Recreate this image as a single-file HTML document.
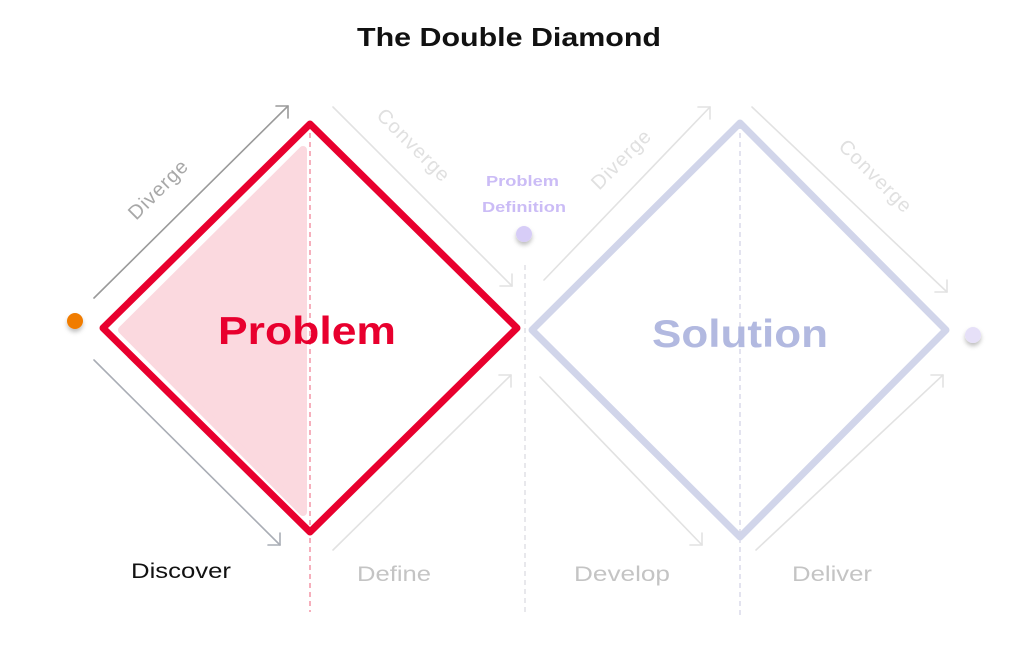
<!DOCTYPE html>
<html><head><style>
body{margin:0;background:#fff;width:1022px;height:645px;overflow:hidden}
svg{display:block}
text{font-family:"Liberation Sans",sans-serif}
</style></head><body>
<svg width="1022" height="645" viewBox="0 0 1022 645">
<defs>
<filter id="sh" x="-1" y="-1" width="3" height="3"><feDropShadow dx="0" dy="3" stdDeviation="2" flood-opacity="0.25"/></filter>
</defs>
<text x="357" y="46" textLength="304" lengthAdjust="spacingAndGlyphs" font-size="26" font-weight="bold" fill="#111">The Double Diamond</text>

<!-- pink fill -->
<polygon points="122,330 303,150 303,512" fill="#fbd9df" stroke="#fbd9df" stroke-width="8" stroke-linejoin="round"/>
<!-- dashed lines -->
<line x1="310" y1="124" x2="310" y2="612" stroke="#f07a90" stroke-width="1.2" stroke-dasharray="5,4"/>
<line x1="525" y1="265" x2="525" y2="615" stroke="#d8d8e0" stroke-width="1.2" stroke-dasharray="5,4"/>
<line x1="740" y1="124" x2="740" y2="615" stroke="#d0d0e4" stroke-width="1.2" stroke-dasharray="5,4"/>

<!-- Problem diamond -->
<polygon points="103,328 310,124 517,328 310,532" fill="none" stroke="#e8002e" stroke-width="7" stroke-linejoin="round"/>
<!-- Solution diamond -->
<polygon points="532,330 740,123 946,330 740,537" fill="none" stroke="#d1d5ea" stroke-width="7" stroke-linejoin="round"/>

<g fill="none" stroke-width="1.6" stroke-linecap="round" stroke-linejoin="round">
<g stroke="#9a9a9a">
<line x1="94" y1="298" x2="288" y2="106"/><polyline points="276,106 288,106 288,118"/>
</g>
<g stroke="#a9adb5">
<line x1="94" y1="360" x2="280" y2="545"/><polyline points="268,545 280,545 280,533"/>
</g>
<g stroke="#e2e2e2">
<line x1="333" y1="107" x2="512" y2="286"/><polyline points="500,286 512,286 512,274"/>
<line x1="333" y1="550" x2="511" y2="375"/><polyline points="499,375 511,375 511,387"/>
<line x1="544" y1="280" x2="710" y2="107"/><polyline points="698,107 710,107 710,119"/>
<line x1="752" y1="107" x2="947" y2="292"/><polyline points="935,292 947,292 947,280"/>
<line x1="540" y1="377" x2="702" y2="545"/><polyline points="690,545 702,545 702,533"/>
<line x1="756" y1="550" x2="943" y2="375"/><polyline points="931,375 943,375 943,387"/>
</g>
</g>

<circle cx="75" cy="321" r="8" fill="#f07c00" filter="url(#sh)"/>
<circle cx="524" cy="234" r="8" fill="#d7cdf7" filter="url(#sh)"/>
<circle cx="973" cy="335" r="8" fill="#e6e0f8" filter="url(#sh)"/>

<text x="218" y="344" textLength="178" lengthAdjust="spacingAndGlyphs" font-size="39" font-weight="bold" fill="#e8002e">Problem</text>
<text x="652" y="347" textLength="176" lengthAdjust="spacingAndGlyphs" font-size="39" font-weight="bold" fill="#b2b9e0">Solution</text>

<text x="486" y="186" textLength="73" lengthAdjust="spacingAndGlyphs" font-size="15" font-weight="bold" fill="#cbbcf6">Problem</text>
<text x="482" y="212" textLength="84" lengthAdjust="spacingAndGlyphs" font-size="15" font-weight="bold" fill="#cbbcf6">Definition</text>

<text transform="translate(163,194) rotate(-45)" text-anchor="middle" font-size="20" letter-spacing="1" fill="#a8a8a8">Diverge</text>
<text transform="translate(409,150) rotate(45)" text-anchor="middle" font-size="20" letter-spacing="1" fill="#e0e0e0">Converge</text>
<text transform="translate(626,164) rotate(-45)" text-anchor="middle" font-size="20" letter-spacing="1" fill="#e0e0e0">Diverge</text>
<text transform="translate(871,181) rotate(45)" text-anchor="middle" font-size="20" letter-spacing="1" fill="#e0e0e0">Converge</text>

<text x="131" y="578" textLength="100" lengthAdjust="spacingAndGlyphs" font-size="21" fill="#111">Discover</text>
<text x="357" y="581" textLength="74" lengthAdjust="spacingAndGlyphs" font-size="21" fill="#c4c4c4">Define</text>
<text x="574" y="581" textLength="96" lengthAdjust="spacingAndGlyphs" font-size="21" fill="#c4c4c4">Develop</text>
<text x="792" y="581" textLength="80" lengthAdjust="spacingAndGlyphs" font-size="21" fill="#c4c4c4">Deliver</text>
</svg>
</body></html>
